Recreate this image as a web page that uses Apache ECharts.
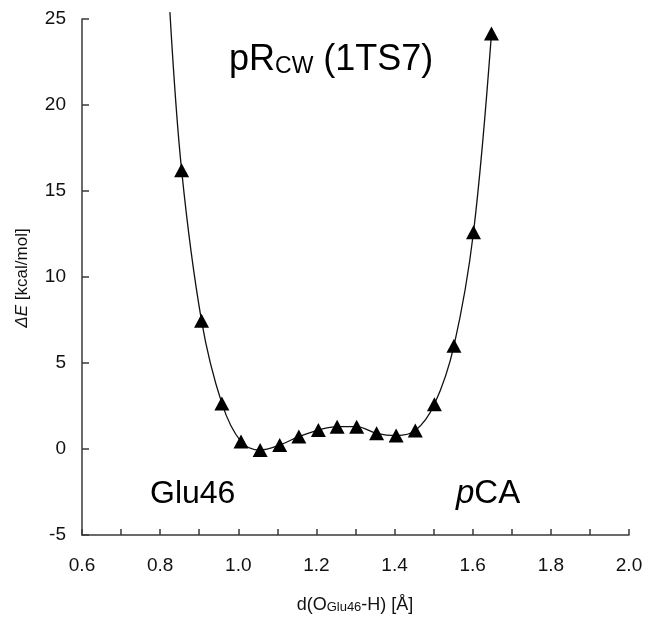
<!DOCTYPE html>
<html>
<head>
<meta charset="utf-8">
<script src="https://cdn.jsdelivr.net/npm/echarts@6/dist/echarts.min.js"></script>
<style>html,body{margin:0;padding:0;background:#fff;}#chart{width:647px;height:618px;}</style>
</head>
<body>
<div id="chart"></div>
<script>
// O-H distance (Å) of each scan point
const distances = [0.855, 0.906, 0.958, 1.007, 1.056, 1.106, 1.155, 1.205, 1.253, 1.303, 1.354, 1.404, 1.453, 1.502, 1.552, 1.602, 1.648];
// relative energy (kcal/mol)
const energies = [16.2, 7.45, 2.65, 0.43, -0.06, 0.23, 0.72, 1.1, 1.3, 1.3, 0.91, 0.78, 1.07, 2.6, 6.0, 12.6, 24.15];
// where the drawn fit curve leaves the top of the plot on the left
const curveStartX = [0.825];
const curveStartY = [25.4];
// axis tick labels
const xTickLabels = ['0.6', '0.8', '1.0', '1.2', '1.4', '1.6', '1.8', '2.0'];
const yTickLabels = ['-5', '0', '5', '10', '15', '20', '25'];

const FONT = '"Liberation Sans", Arial, sans-serif';
const points = distances.map((d, i) => [d, energies[i]]);
const curve = curveStartX.map((d, i) => [d, curveStartY[i]]).concat(points);

const chart = echarts.init(document.getElementById('chart'));
chart.setOption({
  animation: false,
  backgroundColor: '#ffffff',
  grid: { left: 82, right: 18, top: 19, bottom: 83 },
  xAxis: {
    type: 'value', min: 0.6, max: 2.0, interval: 0.1,
    axisLine: { onZero: false, lineStyle: { color: '#3a3a3a', width: 1.5 } },
    axisTick: { inside: true, length: 6, lineStyle: { color: '#3a3a3a', width: 1.5 } },
    axisLabel: {
      margin: 21, color: '#111', fontFamily: FONT, fontSize: 19,
      formatter: v => { const s = v.toFixed(1); return xTickLabels.includes(s) ? s : ''; }
    },
    splitLine: { show: false }
  },
  yAxis: {
    type: 'value', min: -5, max: 25, interval: 5,
    axisLine: { show: true, lineStyle: { color: '#3a3a3a', width: 1.5 } },
    axisTick: { show: true, inside: true, length: 7, lineStyle: { color: '#3a3a3a', width: 1.5 } },
    axisLabel: {
      margin: 16, color: '#111', fontFamily: FONT, fontSize: 19,
      formatter: v => { const s = String(Math.round(v)); return yTickLabels.includes(s) ? s : ''; }
    },
    splitLine: { show: false }
  },
  series: [
    {
      type: 'line', data: curve, smooth: 0.35, symbol: 'none', clip: false,
      lineStyle: { color: '#111', width: 1.3 }, z: 2
    },
    {
      type: 'scatter', data: points, symbol: 'triangle', symbolSize: [15, 14],
      itemStyle: { color: '#000', opacity: 1 }, z: 3
    }
  ],
  graphic: [
    {
      type: 'text', x: 229, y: 60,
      style: {
        text: '{a|pR}{b|CW}{a| (1TS7)}',
        align: 'left', verticalAlign: 'middle', textAlign: 'left', textVerticalAlign: 'middle',
        fill: '#000', font: '36px ' + FONT,
        rich: {
          a: { fontSize: 36, fontFamily: FONT, color: '#000', verticalAlign: 'bottom' },
          b: { fontSize: 23, fontFamily: FONT, color: '#000', verticalAlign: 'bottom' }
        }
      }
    },
    {
      type: 'text', x: 150, y: 494,
      style: {
        text: 'Glu46', align: 'left', verticalAlign: 'middle', textAlign: 'left', textVerticalAlign: 'middle',
        fill: '#000', font: '32px ' + FONT
      }
    },
    {
      type: 'text', x: 456, y: 494,
      style: {
        text: '{i|p}{n|CA}', align: 'left', verticalAlign: 'middle', textAlign: 'left', textVerticalAlign: 'middle',
        fill: '#000', font: '33px ' + FONT,
        rich: {
          i: { fontSize: 33, fontFamily: FONT, fontStyle: 'italic', color: '#000' },
          n: { fontSize: 33, fontFamily: FONT, color: '#000' }
        }
      }
    },
    {
      type: 'text', x: 355, y: 605,
      style: {
        text: '{a|d(O}{b|Glu46}{a|-H) [Å]}', align: 'center', verticalAlign: 'middle', textAlign: 'center', textVerticalAlign: 'middle',
        fill: '#111', font: '18px ' + FONT,
        rich: {
          a: { fontSize: 18, fontFamily: FONT, color: '#111', verticalAlign: 'bottom' },
          b: { fontSize: 13, fontFamily: FONT, color: '#111', verticalAlign: 'bottom' }
        }
      }
    },
    {
      type: 'text', x: 22, y: 278, rotation: Math.PI / 2,
      style: {
        text: '{i|ΔE}{n| [kcal/mol]}', align: 'center', verticalAlign: 'middle', textAlign: 'center', textVerticalAlign: 'middle',
        fill: '#111', font: '17px ' + FONT,
        rich: {
          i: { fontSize: 17, fontFamily: FONT, fontStyle: 'italic', color: '#111' },
          n: { fontSize: 17, fontFamily: FONT, color: '#111' }
        }
      }
    }
  ]
});
</script>
</body>
</html>
